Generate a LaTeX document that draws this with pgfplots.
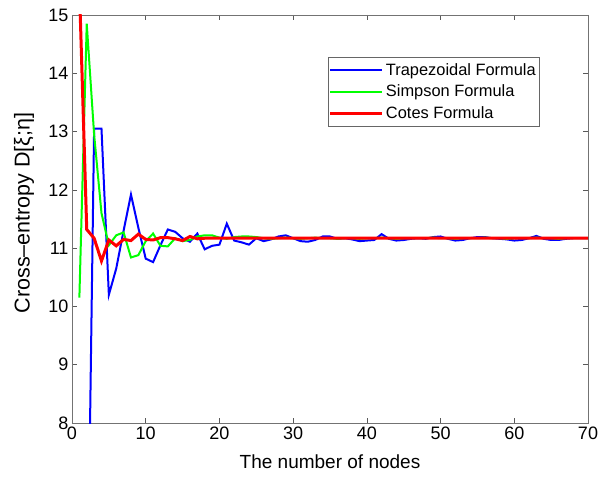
\documentclass[border=0pt]{standalone}
\usepackage{fontspec}
\setmainfont{Liberation Sans}
\usepackage{pgfplots}
\pgfplotsset{compat=1.18}
\definecolor{mblue}{RGB}{0,0,255}
\definecolor{mgreen}{RGB}{0,255,0}
\definecolor{mred}{RGB}{255,0,0}
\begin{document}
\begin{tikzpicture}
\useasboundingbox (-72pt,-57pt) rectangle (527pt,423pt);
\begin{axis}[
  at={(0pt,0pt)}, anchor=south west,
  scale only axis, width=516pt, height=408pt,
  xmin=0, xmax=70, ymin=8, ymax=15,
  xtick={0,10,...,70}, ytick={8,9,...,15},
  tick align=inside, major tick length=5pt,
  axis line style={draw=gray!90!black, line width=0.8pt},
  tick style={draw=gray!70!black, line width=0.6pt},
  /pgf/number format/assume math mode=true,
  tick label style={font=\fontsize{18}{20}\selectfont},
  xlabel={The number of nodes},
  ylabel={Cross–entropy D[ξ;η]},
  xlabel style={font=\fontsize{19}{22}\selectfont, at={(axis description cs:0.5,-0.0956)}, anchor=center},
  ylabel style={font=\fontsize{21.5}{24}\selectfont, at={(axis description cs:-0.093,0.515)}, anchor=center},
  legend style={at={(0.905,0.897)}, anchor=north east, draw=gray!80!black,
    font=\fontsize{16.4}{19}\selectfont, inner xsep=1pt, inner ysep=4pt,
    nodes={inner xsep=2pt, inner ysep=2pt},
    row sep=4.5pt, cells={anchor=west}},
  legend image code/.code={\path (0pt,0pt) -- (52pt,0pt);\draw[#1] (5pt,0pt) -- (51pt,0pt);},
  legend cell align=left,
]
\addplot[mblue, line width=2pt] coordinates {
(2,3.9)(3,13.05)(4,13.05)(5,10.2)(6,10.65)(7,11.3)(8,11.92)(9,11.35)(10,10.82)
(11,10.76)(12,11.05)(13,11.32)(14,11.28)(15,11.17)(16,11.11)(17,11.25)(18,10.98)
(19,11.04)(20,11.06)(21,11.42)(22,11.13)(23,11.1)(24,11.06)(25,11.17)(26,11.12)
(27,11.15)(28,11.2)(29,11.22)(30,11.17)(31,11.12)(32,11.11)(33,11.14)(34,11.2)
(35,11.2)(36,11.16)(37,11.17)(38,11.15)(39,11.12)(40,11.13)(41,11.14)(42,11.24)
(43,11.16)(44,11.13)(45,11.14)(46,11.16)(47,11.17)(48,11.16)(49,11.19)(50,11.2)
(51,11.16)(52,11.13)(53,11.14)(54,11.17)(55,11.19)(56,11.19)(57,11.17)(58,11.16)
(59,11.15)(60,11.13)(61,11.14)(62,11.17)(63,11.21)(64,11.16)(65,11.14)(66,11.14)
(67,11.16)(68,11.17)(69,11.17)(70,11.17)};
\addlegendentry{Trapezoidal Formula}
\addplot[mgreen, line width=2pt] coordinates {
(1,10.15)(2,14.85)(3,12.95)(4,11.6)(5,11.05)(6,11.22)(7,11.27)(8,10.84)(9,10.88)
(10,11.12)(11,11.25)(12,11.04)(13,11.03)(14,11.17)(15,11.12)(16,11.14)(17,11.2)
(18,11.22)(19,11.22)(20,11.18)(21,11.16)(22,11.19)(23,11.2)(24,11.2)(25,11.19)
(26,11.17)(27,11.16)(28,11.17)(29,11.18)(30,11.17)(31,11.16)(32,11.17)(33,11.18)
(34,11.17)(35,11.17)(36,11.16)(37,11.17)(38,11.17)(39,11.16)(40,11.17)(41,11.17)
(42,11.18)(43,11.17)(44,11.16)(45,11.17)(46,11.17)(47,11.17)(48,11.17)(49,11.18)
(50,11.17)(51,11.17)(52,11.16)(53,11.17)(54,11.17)(55,11.17)(56,11.18)(57,11.17)
(58,11.17)(59,11.16)(60,11.17)(61,11.17)(62,11.17)(63,11.18)(64,11.17)(65,11.17)
(66,11.16)(67,11.17)(68,11.17)(69,11.17)(70,11.17)};
\addlegendentry{Simpson Formula}
\addplot[mred, line width=3pt] coordinates {
(1,15.5)(2,11.32)(3,11.17)(4,10.78)(5,11.14)(6,11.04)(7,11.15)(8,11.13)(9,11.24)
(10,11.15)(11,11.14)(12,11.18)(13,11.18)(14,11.16)(15,11.13)(16,11.2)(17,11.16)
(18,11.17)(19,11.17)(20,11.17)(21,11.17)(22,11.17)(23,11.17)(24,11.17)(25,11.17)
(26,11.17)(27,11.17)(28,11.17)(29,11.17)(30,11.17)(31,11.17)(32,11.17)(33,11.17)
(34,11.17)(35,11.17)(36,11.17)(37,11.17)(38,11.17)(39,11.17)(40,11.17)(41,11.17)
(42,11.17)(43,11.17)(44,11.17)(45,11.17)(46,11.17)(47,11.17)(48,11.17)(49,11.17)
(50,11.17)(51,11.17)(52,11.17)(53,11.17)(54,11.17)(55,11.17)(56,11.17)(57,11.17)
(58,11.17)(59,11.17)(60,11.17)(61,11.17)(62,11.17)(63,11.17)(64,11.17)(65,11.17)
(66,11.17)(67,11.17)(68,11.17)(69,11.17)(70,11.17)};
\addlegendentry{Cotes Formula}
\end{axis}
\end{tikzpicture}
\end{document}
